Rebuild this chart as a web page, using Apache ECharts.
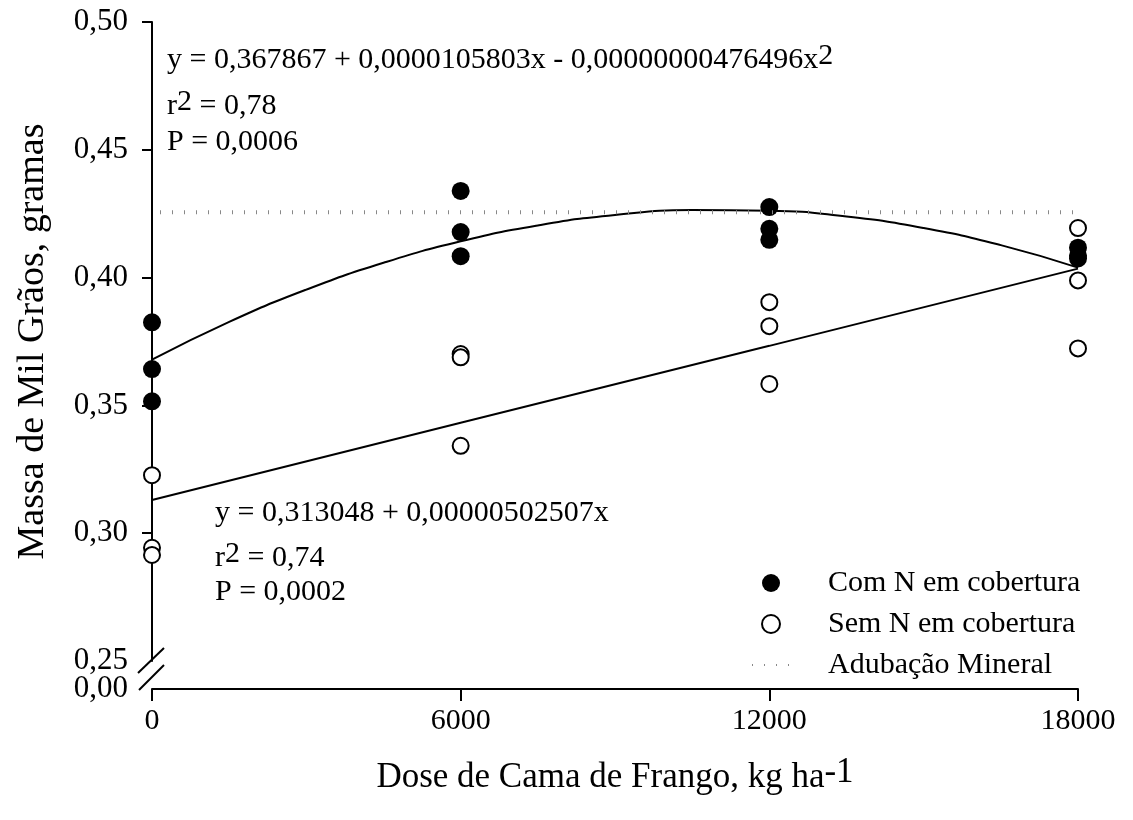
<!DOCTYPE html>
<html>
<head>
<meta charset="utf-8">
<script src="https://cdn.jsdelivr.net/npm/echarts@6/dist/echarts.min.js"></script>
<style>
  html, body { margin: 0; padding: 0; background: #fff; }
  #chart { width: 1133px; height: 820px; }
</style>
</head>
<body>
<div id="chart"></div>
<script>
// doses de cama de frango (kg/ha)
const doseTicks = [0, 6000, 12000, 18000]
const yTicks = [0.25, 0.30, 0.35, 0.40, 0.45, 0.50]

// Com N em cobertura
const comX = [0, 0, 0, 6000, 6000, 6000, 12000, 12000, 12000, 18000, 18000, 18000]
const comY = [0.3825, 0.3642, 0.3516, 0.4339, 0.4178, 0.4084, 0.4276, 0.4191, 0.4148, 0.4117, 0.4085, 0.4075]

// Sem N em cobertura
const semX = [0, 0, 0, 6000, 6000, 6000, 12000, 12000, 12000, 18000, 18000, 18000]
const semY = [0.3227, 0.2943, 0.2915, 0.3701, 0.3688, 0.3342, 0.3904, 0.3810, 0.3584, 0.4194, 0.3989, 0.3723]

// curva ajustada (quadratica)
const quadX = [0, 1500, 3000, 4500, 6000, 7500, 9000, 10500, 12000, 13500, 15000, 16500, 18000]
const quadY = [0.3679, 0.3827, 0.3953, 0.4058, 0.4142, 0.4204, 0.4245, 0.4264, 0.4262, 0.4239, 0.4194, 0.4127, 0.4039]

// reta ajustada (linear)
const linX = [0, 6000, 12000, 18000]
const linY = [0.3130, 0.3432, 0.3733, 0.4035]

// adubacao mineral
const minX = [0, 18000]
const minY = [0.4256, 0.4256]

const font = 'Liberation Serif'
const pairs = (xs, ys) => xs.map((x, i) => [x, ys[i]])
const comma = v => v.toFixed(2).replace('.', ',')

const supRich = {
  n: { fontFamily: font, fontSize: 30, color: '#000', verticalAlign: 'bottom', lineHeight: 34 },
  s: { fontFamily: font, fontSize: 30, color: '#000', verticalAlign: 'top', lineHeight: 34, padding: [0, 0, 16, 0] }
}

const eqLines = [
  { x: 167, y: 58, text: '{n|y = 0,367867 + 0,0000105803x - 0,00000000476496x}{s|2}' },
  { x: 167, y: 104, text: '{n|r}{s|2}{n| = 0,78}' },
  { x: 167, y: 140, text: '{n|P = 0,0006}' },
  { x: 215, y: 511, text: '{n|y = 0,313048 + 0,00000502507x}' },
  { x: 215, y: 556, text: '{n|r}{s|2}{n| = 0,74}' },
  { x: 215, y: 590, text: '{n|P = 0,0002}' }
]

const chart = echarts.init(document.getElementById('chart'))

const option = {
  animation: false,
  backgroundColor: '#fff',
  textStyle: { fontFamily: font, color: '#000' },
  grid: [
    { left: 152, top: 22, width: 926, height: 639 },
    { left: 152, top: 661, width: 926, height: 28 }
  ],
  legend: {
    data: ['Com N em cobertura', 'Sem N em cobertura', 'Adubação Mineral'],
    orient: 'vertical',
    left: 738,
    top: 561,
    itemWidth: 54,
    itemHeight: 18,
    itemGap: 7,
    selectedMode: false,
    textStyle: { fontFamily: font, fontSize: 30, color: '#000', lineHeight: 34, padding: [0, 0, 0, 25] }
  },
  xAxis: [
    { gridIndex: 0, type: 'value', min: 0, max: 18000, show: false },
    {
      gridIndex: 1,
      type: 'value',
      min: 0,
      max: 18000,
      interval: 6000,
      axisLine: { onZero: false, lineStyle: { color: '#000', width: 2 } },
      axisTick: { inside: false, length: 12, customValues: doseTicks, lineStyle: { color: '#000', width: 2 } },
      axisLabel: { fontFamily: font, fontSize: 30, color: '#000', margin: 17, customValues: doseTicks, formatter: v => String(v) },
      splitLine: { show: false },
      name: '{n|Dose de Cama de Frango, kg ha}{s|-1}',
      nameLocation: 'middle',
      nameGap: 66,
      nameTextStyle: {
        rich: {
          n: { fontFamily: font, fontSize: 35, color: '#000', verticalAlign: 'bottom', lineHeight: 40 },
          s: { fontFamily: font, fontSize: 35, color: '#000', verticalAlign: 'top', lineHeight: 40, padding: [0, 0, 22, 0] }
        }
      }
    }
  ],
  yAxis: [
    {
      gridIndex: 0,
      type: 'value',
      min: 0.25,
      max: 0.5,
      interval: 0.05,
      axisLine: { show: true, onZero: false, lineStyle: { color: '#000', width: 2 } },
      axisTick: { inside: false, length: 10, customValues: yTicks.slice(1), lineStyle: { color: '#000', width: 2 } },
      axisLabel: { fontFamily: font, fontSize: 31, color: '#000', margin: 24, customValues: yTicks, formatter: comma },
      splitLine: { show: false },
      name: 'Massa de Mil Grãos, gramas',
      nameLocation: 'middle',
      nameGap: 100,
      nameTextStyle: { fontFamily: font, fontSize: 38, color: '#000' }
    },
    {
      gridIndex: 1,
      type: 'value',
      min: 0,
      max: 1,
      axisLine: { show: false },
      axisTick: { show: false },
      splitLine: { show: false },
      axisLabel: { fontFamily: font, fontSize: 31, color: '#000', margin: 24, customValues: [0], formatter: comma }
    }
  ],
  series: [
    {
      name: 'ajuste com N',
      type: 'line',
      data: pairs(quadX, quadY),
      smooth: true,
      symbol: 'none',
      lineStyle: { color: '#000', width: 2 },
      silent: true
    },
    {
      name: 'ajuste sem N',
      type: 'line',
      data: pairs(linX, linY),
      symbol: 'none',
      lineStyle: { color: '#000', width: 2 },
      silent: true
    },
    {
      name: 'Adubação Mineral',
      type: 'line',
      data: pairs(minX, minY),
      symbol: 'none',
      lineStyle: { color: '#888', width: 4, type: [1, 11], dashOffset: -8 },
      itemStyle: { color: '#888', opacity: 0 },
      silent: true
    },
    {
      name: 'Com N em cobertura',
      type: 'scatter',
      data: pairs(comX, comY),
      symbol: 'circle',
      symbolSize: 18,
      clip: false,
      itemStyle: { color: '#000', opacity: 1 }
    },
    {
      name: 'Sem N em cobertura',
      type: 'scatter',
      data: pairs(semX, semY),
      symbol: 'circle',
      symbolSize: 16,
      clip: false,
      itemStyle: { color: '#fff', borderColor: '#000', borderWidth: 2, opacity: 1 }
    }
  ]
}

chart.setOption(option)

// marca de quebra do eixo y e textos das equacoes
const p = chart.convertToPixel({ xAxisIndex: 0, yAxisIndex: 0 }, [0, 0.25])
const graphics = [
  { type: 'line', shape: { x1: p[0] - 14, y1: p[1] + 12, x2: p[0] + 12, y2: p[1] - 13 }, style: { stroke: '#000', lineWidth: 2 }, z: 10 },
  { type: 'line', shape: { x1: p[0] - 13, y1: p[1] + 29, x2: p[0] + 12, y2: p[1] + 4 }, style: { stroke: '#000', lineWidth: 2 }, z: 10 }
]
eqLines.forEach(l => {
  graphics.push({
    type: 'text',
    x: l.x,
    y: l.y + 17,
    z: 10,
    style: { text: l.text, rich: supRich, verticalAlign: 'bottom', align: 'left', fill: '#000', fontFamily: font, fontSize: 30 }
  })
})
chart.setOption({ graphic: graphics })

window.addEventListener('resize', () => {
  chart.resize()
})
</script>
</body>
</html>
